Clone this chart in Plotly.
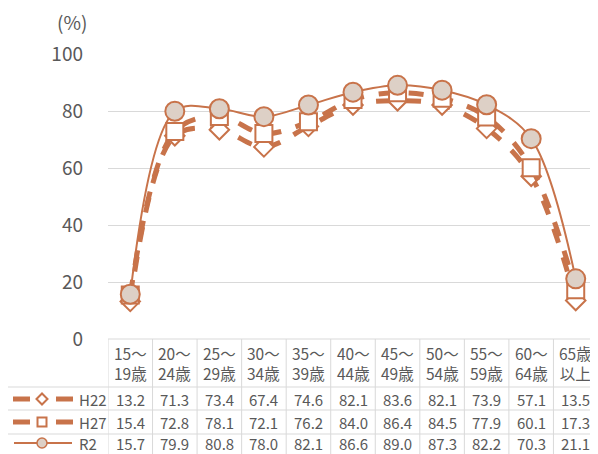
import plotly.graph_objects as go

categories = ["15～<br>19歳", "20～<br>24歳", "25～<br>29歳", "30～<br>34歳", "35～<br>39歳",
              "40～<br>44歳", "45～<br>49歳", "50～<br>54歳", "55～<br>59歳", "60～<br>64歳", "65歳<br>以上"]
series_names = ["H22", "H27", "R2"]
h22 = [13.2, 71.3, 73.4, 67.4, 74.6, 82.1, 83.6, 82.1, 73.9, 57.1, 13.5]
h27 = [15.4, 72.8, 78.1, 72.1, 76.2, 84.0, 86.4, 84.5, 77.9, 60.1, 17.3]
r2 = [15.7, 79.9, 80.8, 78.0, 82.1, 86.6, 89.0, 87.3, 82.2, 70.3, 21.1]
y_ticks = [0, 20, 40, 60, 80, 100]

# the page body has an 8px margin, so the figure is laid out 8px in from the window edge
OFF = 8
W, H = 598 - OFF, 454 - OFF
ORANGE = "#c8734a"
FILL = "#ddd0c6"
GRID = "#d9d9d9"
TXT = "#595959"
FONT = "Noto Sans CJK JP"

def py(y):
    return 1 - (y - OFF) / H

def px(x):
    return (x - OFF) / W

xs = list(range(len(categories)))
fig = go.Figure()

styles = [
    dict(line=dict(color=ORANGE, width=5, dash="dash", shape="spline"),
         marker=dict(symbol="diamond", size=15, color="white", line=dict(color=ORANGE, width=2))),
    dict(line=dict(color=ORANGE, width=5, dash="dash", shape="spline"),
         marker=dict(symbol="square", size=17, color="white", line=dict(color=ORANGE, width=2))),
    dict(line=dict(color=ORANGE, width=2, shape="spline"),
         marker=dict(symbol="circle", size=19, color=FILL, line=dict(color=ORANGE, width=2))),
]

for name, vals, st in zip(series_names, [h22, h27, r2], styles):
    fig.add_trace(go.Scatter(x=xs, y=vals, name=name, mode="lines+markers",
                             line=st["line"], marker=st["marker"], showlegend=False))

shapes = []
line_grid = dict(color=GRID, width=1)
shapes.append(dict(type="line", xref="paper", yref="paper", x0=px(108), x1=1, y0=py(339), y1=py(339),
                   line=line_grid))
for yy in [387, 410, 434]:
    shapes.append(dict(type="line", xref="paper", yref="paper", x0=0, x1=1, y0=py(yy), y1=py(yy),
                       line=line_grid))
for i in range(len(categories) + 1):
    shapes.append(dict(type="line", xref="x", yref="paper", x0=i - 0.5, x1=i - 0.5, y0=0, y1=py(339),
                       line=line_grid))

# legend keys drawn in the table's first column
row_y = [399, 422, 443]
for k, yy in enumerate(row_y[:2]):
    for xa, xb in [(13, 30), (56, 73)]:
        shapes.append(dict(type="line", xref="paper", yref="paper", x0=px(xa), x1=px(xb),
                           y0=py(yy), y1=py(yy), line=dict(color=ORANGE, width=5)))
cx = 42
# diamond
d = 5.5
yy = row_y[0]
shapes.append(dict(type="path", xref="paper", yref="paper",
                   path=f"M {px(cx-d)},{py(yy)} L {px(cx)},{py(yy-d)} L {px(cx+d)},{py(yy)} L {px(cx)},{py(yy+d)} Z",
                   fillcolor="white", line=dict(color=ORANGE, width=2)))
# square
s = 4.5
yy = row_y[1]
shapes.append(dict(type="rect", xref="paper", yref="paper", x0=px(cx - s), x1=px(cx + s),
                   y0=py(yy + s), y1=py(yy - s), fillcolor="white", line=dict(color=ORANGE, width=2)))
# line + circle
yy = row_y[2]
shapes.append(dict(type="line", xref="paper", yref="paper", x0=px(14), x1=px(72), y0=py(yy), y1=py(yy),
                   line=dict(color=ORANGE, width=2)))
r = 5
shapes.append(dict(type="circle", xref="paper", yref="paper", x0=px(cx - r), x1=px(cx + r),
                   y0=py(yy + r), y1=py(yy - r), fillcolor=FILL, line=dict(color=ORANGE, width=1.5)))

annotations = []
annotations.append(dict(text="(%)", xref="paper", yref="paper", x=px(72), y=py(22),
                        xanchor="center", yanchor="middle",
                        showarrow=False, font=dict(family=FONT, size=19, color=TXT)))
for i, c in enumerate(categories):
    annotations.append(dict(text=c, xref="x", yref="paper", x=i, y=py(363), showarrow=False,
                            xanchor="center", yanchor="middle",
                            font=dict(family=FONT, size=15.5, color=TXT)))
for name, vals, yy in zip(series_names, [h22, h27, r2], row_y):
    annotations.append(dict(text=name, xref="paper", yref="paper", x=px(77), y=py(yy), showarrow=False,
                            xanchor="left", yanchor="middle",
                            font=dict(family=FONT, size=15, color=TXT)))
    for i, v in enumerate(vals):
        annotations.append(dict(text=f"{v:.1f}", xref="x", yref="paper", x=i, y=py(yy), showarrow=False,
                                xanchor="center", yanchor="middle",
                                font=dict(family=FONT, size=15, color=TXT)))

fig.update_layout(
    width=W, height=H,
    margin=dict(l=0, r=0, t=0, b=0, autoexpand=False),
    paper_bgcolor="white", plot_bgcolor="white",
    font=dict(family=FONT, color=TXT),
    xaxis=dict(domain=[px(108), 1], range=[-0.5, len(categories) - 0.5], showgrid=False,
               showticklabels=False, zeroline=False, showline=False, fixedrange=True, automargin=False),
    yaxis=dict(domain=[py(339), py(54)], range=[0, 100], tickvals=y_ticks, automargin=False,
               showgrid=True, gridcolor=GRID, gridwidth=1, zeroline=False, showline=False,
               ticks="", ticklabelstandoff=24, tickfont=dict(family=FONT, size=19, color=TXT)),
    showlegend=False,
    shapes=shapes,
    annotations=annotations,
)

fig.write_html("out.html")
